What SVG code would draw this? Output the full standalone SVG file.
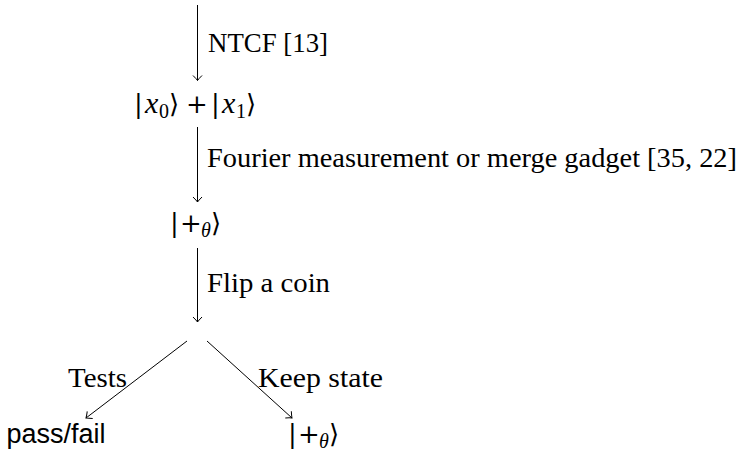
<svg xmlns="http://www.w3.org/2000/svg" width="740" height="451" viewBox="0 0 740 451">
<defs>
<style>
.t{font-family:"DejaVu Serif","Liberation Serif",serif;font-size:26px;fill:#000}
.s{font-family:"Liberation Sans","DejaVu Sans",sans-serif;font-size:27px;fill:#000}
.i{font-family:"Liberation Serif",serif;font-style:italic;font-size:30px}
.sub{font-family:"Liberation Serif",serif;font-size:20px}
.e{stroke:#000;stroke-width:1;fill:none}
.lbl{font-family:"Liberation Serif","DejaVu Serif",serif;font-size:28px;fill:#000}
</style>
<marker id="ah" viewBox="-6 -6 8 12" markerWidth="8" markerHeight="12" refX="0" refY="0" orient="auto" markerUnits="userSpaceOnUse">
<path d="M-5,-4.5 Q-1.5,-1 0,0 Q-1.5,1 -5,4.5" fill="none" stroke="#000" stroke-width="1"/>
</marker>
</defs>
<rect width="740" height="451" fill="#fff"/>
<g id="connectors">
<line class="e" x1="197.5" y1="5" x2="197.5" y2="80.5" marker-end="url(#ah)"/>
<line class="e" x1="197.5" y1="127" x2="197.5" y2="202" marker-end="url(#ah)"/>
<line class="e" x1="197.5" y1="248" x2="197.5" y2="322" marker-end="url(#ah)"/>
<line class="e" x1="187" y1="341" x2="86" y2="418" marker-end="url(#ah)"/>
<line class="e" x1="207" y1="341" x2="292" y2="418" marker-end="url(#ah)"/>
<text class="lbl" x="208" y="52" textLength="120" lengthAdjust="spacingAndGlyphs">NTCF [13]</text>
<text class="lbl" x="207" y="167" textLength="530" lengthAdjust="spacingAndGlyphs">Fourier measurement or merge gadget [35, 22]</text>
<text class="lbl" x="207" y="292" textLength="123" lengthAdjust="spacingAndGlyphs">Flip a coin</text>
<text class="lbl" x="68" y="387" textLength="59" lengthAdjust="spacingAndGlyphs">Tests</text>
<text class="lbl" x="258" y="387" textLength="125" lengthAdjust="spacingAndGlyphs">Keep state</text>
</g>
<g id="n1">
<text class="t" y="113"><tspan x="134">|</tspan><tspan class="i" x="145">x</tspan><tspan class="sub" x="159" y="118">0</tspan><tspan x="169" y="113">⟩</tspan><tspan x="186">+</tspan><tspan x="211">|</tspan><tspan class="i" x="222">x</tspan><tspan class="sub" x="236" y="118">1</tspan><tspan x="246" y="113">⟩</tspan></text>
</g>
<g id="n2">
<text class="t" y="232"><tspan x="170">|</tspan><tspan x="180">+</tspan><tspan class="sub" font-style="italic" x="201" y="237">θ</tspan><tspan x="211" y="232">⟩</tspan></text>
</g>
<g id="n3">
<text class="s" x="56" y="443" text-anchor="middle">pass/fail</text>
</g>
<g id="n4">
<text class="t" y="443"><tspan x="288">|</tspan><tspan x="298">+</tspan><tspan class="sub" font-style="italic" x="319" y="448">θ</tspan><tspan x="329" y="443">⟩</tspan></text>
</g>
</svg>
